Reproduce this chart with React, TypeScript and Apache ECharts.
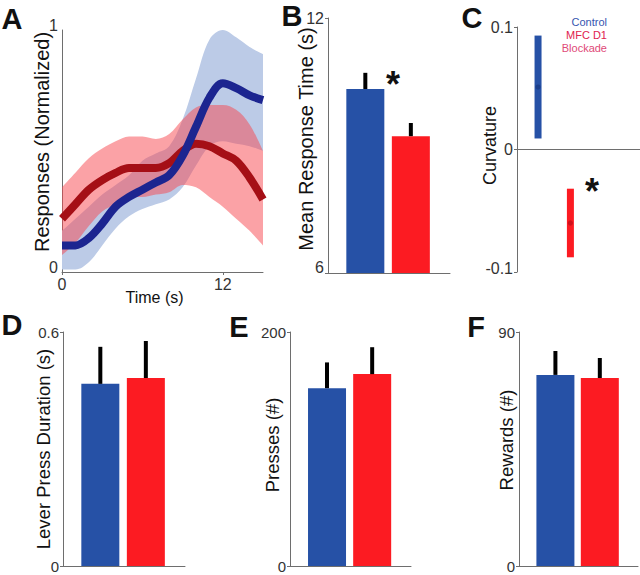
import React, { useEffect, useRef } from "react";
import * as echarts from "echarts";

// ---------- Panel A: normalized responses over time ----------
const timeSec = [0, 1, 2, 3, 4, 5, 6, 7, 8, 9, 10, 11, 12, 13, 14, 15];
const timeTickLabels = [0, 12];
const controlMean = [0.11, 0.11, 0.14, 0.2, 0.27, 0.31, 0.34, 0.37, 0.4, 0.48, 0.6, 0.72, 0.78, 0.76, 0.73, 0.71];
const controlUpper = [0.17, 0.22, 0.27, 0.32, 0.36, 0.4, 0.46, 0.49, 0.52, 0.63, 0.8, 0.96, 1.0, 0.97, 0.93, 0.9];
const controlLower = [0.01, 0.01, 0.04, 0.11, 0.18, 0.23, 0.26, 0.28, 0.3, 0.35, 0.44, 0.52, 0.54, 0.53, 0.52, 0.5];
const blockMean = [0.22, 0.28, 0.34, 0.38, 0.41, 0.43, 0.43, 0.43, 0.45, 0.5, 0.53, 0.52, 0.49, 0.46, 0.39, 0.3];
const blockUpper = [0.35, 0.41, 0.47, 0.51, 0.54, 0.56, 0.56, 0.55, 0.57, 0.63, 0.68, 0.69, 0.69, 0.67, 0.61, 0.5];
const blockLower = [0.07, 0.12, 0.19, 0.25, 0.28, 0.31, 0.31, 0.32, 0.33, 0.36, 0.35, 0.31, 0.27, 0.22, 0.17, 0.11];

// ---------- Groups ----------
const groups = ["Control", "MFC D1 Blockade"];
const groupPos = [1, 2];

// ---------- Panel B: mean response time (s) ----------
const respTimeMean = [10.33, 9.22];
const respTimeSem = [0.38, 0.31];

// ---------- Panel C: curvature ----------
const curvMean = [0.051, -0.06];
const curvHalfWidth = [0.042, 0.028];

// ---------- Panel D: lever press duration (s) ----------
const durMean = [0.467, 0.482];
const durSem = [0.095, 0.095];

// ---------- Panel E: presses (#) ----------
const pressMean = [152, 164];
const pressSem = [22, 23];

// ---------- Panel F: rewards (#) ----------
const rewardMean = [73.5, 72.3];
const rewardSem = [9.2, 7.7];

const FONT = '"Liberation Sans", Arial, Helvetica, sans-serif';
const BAR_COLORS = ["#2651a6", "#fc1b22"];
const AXIS_COLOR = "#6e6e6e";
const LABEL_COLOR = "#333";

export default function App() {
  const ref = useRef<HTMLDivElement>(null);

  useEffect(() => {
    if (!ref.current) return;
    const chart = echarts.init(ref.current, undefined, { renderer: "svg" });

    const yName = (name: string, gap: number, size: number, shift: number) => ({
      name,
      nameLocation: "middle",
      nameRotate: 90,
      nameGap: gap,
      nameMoveOverlap: false,
      nameTextStyle: {
        fontFamily: FONT,
        fontSize: size,
        color: "#111",
        padding: [0, 0, 0, shift],
      },
    });

    const baseAxisLine = { show: true, lineStyle: { color: AXIS_COLOR, width: 1 } };
    const tick = { show: true, length: 3, lineStyle: { color: AXIS_COLOR } };

    const fmt = (v: number) => `${+(+v).toFixed(4)}`;
    // labels lifted a few pixels (all, or only the lowest one)
    const shiftedLabels = (min: number, fs: number, shift: number, all: boolean) => ({
      fontFamily: FONT,
      fontSize: fs,
      color: LABEL_COLOR,
      margin: 4,
      align: "right",
      hideOverlap: false,
      formatter: (v: number) => (all || Math.abs(v - min) < 1e-9 ? `{lo|${fmt(v)}}` : fmt(v)),
      rich: { lo: { fontFamily: FONT, fontSize: fs, color: LABEL_COLOR, align: "right", padding: [0, 0, shift, 0] } },
    });

    const barXAxis = (gridIndex: number) => ({
      type: "value",
      gridIndex,
      min: 0.18,
      max: 2.86,
      axisLine: baseAxisLine,
      axisTick: { show: false },
      axisLabel: { show: false },
      splitLine: { show: false },
    });

    const barYAxis = (gridIndex: number, min: number, max: number, name: string, gap: number, size: number, shift: number, fs: number, lo: number) => ({
      type: "value",
      gridIndex,
      min,
      max,
      interval: max - min,
      axisLine: baseAxisLine,
      axisTick: tick,
      axisLabel: shiftedLabels(min, fs, lo, false),
      splitLine: { show: false },
      ...yName(name, gap, size, shift),
    });

    const errRender = (params: any, api: any) => {
      const x = api.value(0);
      const m = api.value(1);
      const e = api.value(2);
      const p0 = api.coord([x, m]);
      const p1 = api.coord([x, m + e]);
      return {
        type: "line",
        shape: { x1: p0[0], y1: p0[1], x2: p1[0], y2: p1[1] },
        style: { stroke: "#000", lineWidth: 4 },
      };
    };

    const ciRender = (params: any, api: any) => {
      const x = api.value(0);
      const m = api.value(1);
      const h = api.value(2);
      const top = api.coord([x, m + h]);
      const bot = api.coord([x, m - h]);
      const mid = api.coord([x, m]);
      const color = BAR_COLORS[params.dataIndex];
      return {
        type: "group",
        children: [
          { type: "rect", shape: { x: top[0] - 3.5, y: top[1], width: 7, height: bot[1] - top[1] }, style: { fill: color } },
          { type: "circle", shape: { cx: mid[0], cy: mid[1], r: 2.6 }, style: { fill: params.dataIndex === 0 ? "#1b3f8c" : "#d0101a" } },
        ],
      };
    };

    const barSeries = (idx: number, means: number[], sems: number[]) => [
      {
        type: "bar",
        name: "bars",
        xAxisIndex: idx,
        yAxisIndex: idx,
        barWidth: 38,
        data: groupPos.map((x, i) => ({ name: groups[i], value: [x, means[i]], itemStyle: { color: BAR_COLORS[i] } })),
        z: 2,
      },
      {
        type: "custom",
        name: "error",
        xAxisIndex: idx,
        yAxisIndex: idx,
        renderItem: errRender,
        encode: { x: 0, y: 1 },
        data: groupPos.map((x, i) => [x, means[i], sems[i]]),
        z: 3,
      },
    ];

    const diff = (u: number[], l: number[]) => u.map((v, i) => +(v - l[i]).toFixed(4));
    const lineCommon = { type: "line", xAxisIndex: 0, yAxisIndex: 0, showSymbol: false, symbol: "none", smooth: 0.35 };

    const panelLabel = (text: string, x: number, y: number) => ({
      type: "text",
      x,
      y,
      style: { text, fontFamily: FONT, fontSize: 29, fontWeight: "bold", fill: "#111", align: "center", verticalAlign: "middle" },
    });
    const star = (x: number, y: number) => ({
      type: "text",
      x,
      y,
      style: { text: "*", fontFamily: FONT, fontSize: 36, fontWeight: "bold", fill: "#111", align: "center", verticalAlign: "middle" },
    });
    const legendText = (text: string, y: number, color: string) => ({
      type: "text",
      x: 607,
      y,
      style: { text, fontFamily: FONT, fontSize: 11, fill: color, align: "right", verticalAlign: "middle" },
    });

    const showTime = (i: number) => timeTickLabels.includes(timeSec[i]);

    const option: any = {
      animation: false,
      backgroundColor: "#fff",
      grid: [
        { left: 62, top: 30, width: 201, height: 242 },
        { left: 328, top: 18, width: 122, height: 255 },
        { left: 517, top: 27, width: 130, height: 245 },
        { left: 63, top: 332, width: 122, height: 234 },
        { left: 290, top: 332, width: 121, height: 234 },
        { left: 519, top: 332, width: 119, height: 234 },
      ],
      xAxis: [
        {
          type: "category",
          gridIndex: 0,
          data: timeSec.map(String),
          boundaryGap: false,
          axisLine: baseAxisLine,
          axisTick: { show: true, length: 3, interval: showTime, lineStyle: { color: AXIS_COLOR } },
          axisLabel: { fontFamily: FONT, fontSize: 16, color: LABEL_COLOR, margin: 4, interval: showTime },
          splitLine: { show: false },
          name: "Time (s)",
          nameLocation: "middle",
          nameGap: 17,
          nameMoveOverlap: false,
          nameTextStyle: { fontFamily: FONT, fontSize: 16, color: "#111", padding: [0, 16, 0, 0] },
        },
        barXAxis(1),
        {
          type: "value",
          gridIndex: 2,
          min: 0.35,
          max: 4.15,
          axisLine: baseAxisLine,
          axisTick: { show: false },
          axisLabel: { show: false },
          splitLine: { show: false },
        },
        barXAxis(3),
        barXAxis(4),
        barXAxis(5),
      ],
      yAxis: [
        {
          type: "value",
          gridIndex: 0,
          min: 0,
          max: 1,
          interval: 1,
          axisLine: baseAxisLine,
          axisTick: { show: false },
          axisLabel: shiftedLabels(0, 16, 10, true),
          splitLine: { show: false },
          ...yName("Responses (Normalized)", 10, 20, 18),
        },
        barYAxis(1, 6, 12, "Mean Response Time (s)", 12, 20, 13, 16, 12),
        {
          type: "value",
          gridIndex: 2,
          min: -0.1,
          max: 0.1,
          interval: 0.1,
          axisLine: baseAxisLine,
          axisTick: tick,
          axisLabel: shiftedLabels(-0.1, 16, 8, false),
          splitLine: { show: false },
          ...yName("Curvature", 18, 18, 8),
        },
        barYAxis(3, 0, 0.6, "Lever Press Duration (s)", 10, 18.5, 0, 15, 0),
        barYAxis(4, 0, 200, "Presses (#)", 8, 18.5, 8, 15, 0),
        barYAxis(5, 0, 90, "Rewards (#)", 3, 18.5, 18, 15, 0),
      ],
      series: [
        // Panel A: control band (bottom), blockade band (translucent), lines on top
        { ...lineCommon, name: "ctrlLower", stack: "ctl", data: controlLower, lineStyle: { opacity: 0 }, z: 1 },
        {
          ...lineCommon,
          name: "ctrlBand",
          stack: "ctl",
          data: diff(controlUpper, controlLower),
          lineStyle: { opacity: 0 },
          areaStyle: { color: "#bccbe7", opacity: 1 },
          z: 1,
        },
        { ...lineCommon, name: "blockLower", stack: "blk", data: blockLower, lineStyle: { opacity: 0 }, z: 2 },
        {
          ...lineCommon,
          name: "blockBand",
          stack: "blk",
          data: diff(blockUpper, blockLower),
          lineStyle: { opacity: 0 },
          areaStyle: { color: "#f8464e", opacity: 0.5 },
          z: 2,
        },
        { ...lineCommon, name: "MFC D1 Blockade", data: blockMean, lineStyle: { color: "#a50f16", width: 8, cap: "butt" }, z: 3 },
        { ...lineCommon, name: "Control", data: controlMean, lineStyle: { color: "#1c2590", width: 8, cap: "butt" }, z: 4 },
        // Panel B
        ...barSeries(1, respTimeMean, respTimeSem),
        // Panel C
        {
          type: "custom",
          name: "curvature",
          xAxisIndex: 2,
          yAxisIndex: 2,
          renderItem: ciRender,
          encode: { x: 0, y: 1 },
          data: groupPos.map((x, i) => [x, curvMean[i], curvHalfWidth[i]]),
        },
        // Panels D, E, F
        ...barSeries(3, durMean, durSem),
        ...barSeries(4, pressMean, pressSem),
        ...barSeries(5, rewardMean, rewardSem),
      ],
      graphic: [
        panelLabel("A", 12, 19),
        panelLabel("B", 292, 16),
        panelLabel("C", 472, 18),
        panelLabel("D", 12, 325),
        panelLabel("E", 239, 327),
        panelLabel("F", 476, 327),
        star(393, 84),
        star(592, 191),
        legendText("Control", 22, "#3556b0"),
        legendText("MFC D1", 35, "#e0224e"),
        legendText("Blockade", 48, "#e04a78"),
      ],
    };

    chart.setOption(option);
    return () => chart.dispose();
  }, []);

  return <div ref={ref} style={{ position: "absolute", left: 0, top: 0, width: 640, height: 575 }} />;
}
